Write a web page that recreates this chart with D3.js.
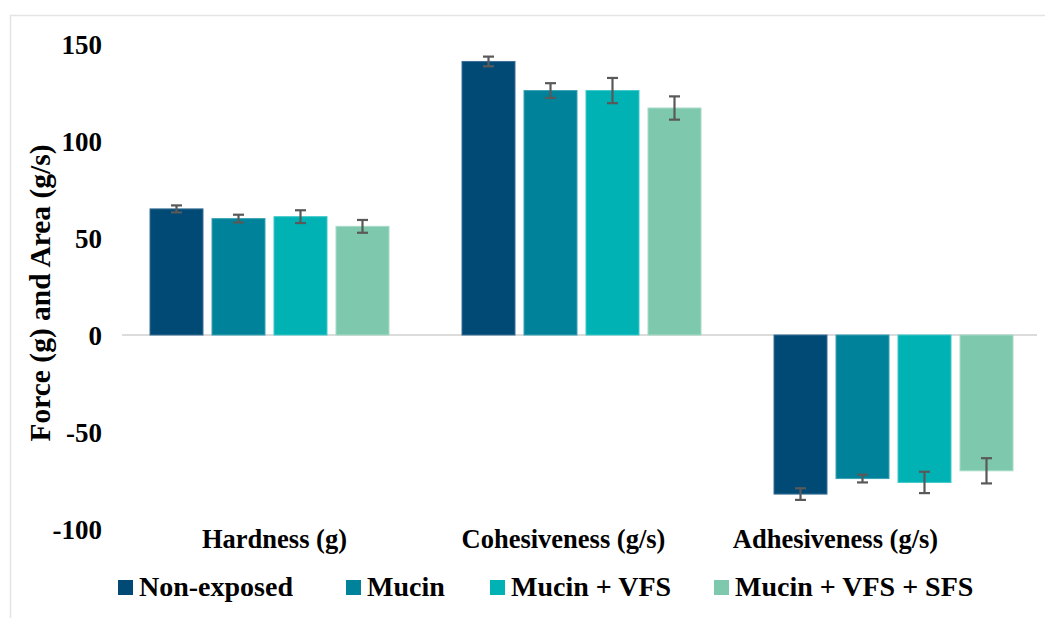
<!DOCTYPE html>
<html>
<head>
<meta charset="utf-8">
<script src="https://cdn.jsdelivr.net/npm/d3@7"></script>
<style>
  html, body { margin: 0; padding: 0; background: #fff; }
  svg { display: block; }
  text { font-family: "Liberation Serif", "Times New Roman", serif; font-weight: bold; fill: #000; }
</style>
</head>
<body>
<svg id="chart" width="1045" height="618"></svg>
<script>
// Texture-profile measures per sample treatment
const categories = ["Hardness (g)", "Cohesiveness (g/s)", "Adhesiveness (g/s)"];
const seriesNames = ["Non-exposed", "Mucin", "Mucin + VFS", "Mucin + VFS + SFS"];
const nonExposed   = [65, 141, -82];
const mucin        = [60, 126, -74];
const mucinVfs     = [61, 126, -76];
const mucinVfsSfs  = [56, 117, -70];
const nonExposedErr  = [1.8, 2.5, 3];
const mucinErr       = [2, 3.8, 2];
const mucinVfsErr    = [3.3, 6.5, 5.5];
const mucinVfsSfsErr = [3.3, 6, 6.5];
const yTicks = [150, 100, 50, 0, -50, -100];
const colors = ["#004a75", "#00839a", "#00b2b4", "#7ec9ae"];
const edgeColors = ["#3b6f95", "#3aa2b3", "#40c8c9", "#a6dac7"];

const seriesValues = [nonExposed, mucin, mucinVfs, mucinVfsSfs];
const seriesErrors = [nonExposedErr, mucinErr, mucinVfsErr, mucinVfsSfsErr];

// horizontal nudge of each category caption relative to its group centre
const labelShift = [5, -18, -58];

const svg = d3.select("#chart");

// outer frame (left and top edges only are visible)
svg.append("line").attr("x1", 10.5).attr("x2", 10.5).attr("y1", 15).attr("y2", 618)
  .attr("stroke", "#e4e4e4").attr("stroke-width", 1.5);
svg.append("line").attr("x1", 10).attr("x2", 1045).attr("y1", 15.5).attr("y2", 15.5)
  .attr("stroke", "#e4e4e4").attr("stroke-width", 1.5);

const y = d3.scaleLinear().domain([-100, 150]).range([529, 44]);
const x0 = d3.scaleBand().domain(categories).range([113.5, 1049.5]).padding(0);
const x1 = d3.scaleBand().domain(seriesNames).range([0, 240]).paddingInner(0.129).paddingOuter(0);

// y tick labels (plain hyphen for negatives)
const yAxis = d3.axisLeft(y).tickValues(yTicks).tickSize(0).tickPadding(0)
  .tickFormat(d => String(d));
const gy = svg.append("g").attr("transform", "translate(102,0)").call(yAxis);
gy.select(".domain").remove();
gy.selectAll("text")
  .attr("font-family", "Liberation Serif")
  .attr("font-weight", "bold")
  .attr("font-size", 27)
  .attr("fill", "#000")
  .attr("dy", "0.34em");

// zero line
svg.append("line")
  .attr("x1", 122).attr("x2", 1037)
  .attr("y1", y(0)).attr("y2", y(0))
  .attr("stroke", "#d0d0d0").attr("stroke-width", 1.5);

// bars
const groups = svg.append("g").selectAll("g")
  .data(categories)
  .join("g")
  .attr("transform", c => `translate(${x0(c) + x0.bandwidth() / 2 - 120},0)`);

seriesNames.forEach((s, si) => {
  groups.append("rect")
    .attr("x", x1(s) + 0.5)
    .attr("width", x1.bandwidth() - 1)
    .attr("y", (c, ci) => y(Math.max(0, seriesValues[si][ci])))
    .attr("height", (c, ci) => Math.abs(y(seriesValues[si][ci]) - y(0)))
    .attr("fill", colors[si])
    .attr("stroke", edgeColors[si])
    .attr("stroke-width", 1);
});

// error bars
seriesNames.forEach((s, si) => {
  const cx = x1(s) + x1.bandwidth() / 2;
  const eb = groups.append("g").attr("stroke", "#595959").attr("stroke-width", 2.2);
  eb.append("line")
    .attr("x1", cx).attr("x2", cx)
    .attr("y1", (c, ci) => y(seriesValues[si][ci] + seriesErrors[si][ci]))
    .attr("y2", (c, ci) => y(seriesValues[si][ci] - seriesErrors[si][ci]));
  [1, -1].forEach(sign => {
    eb.append("line")
      .attr("x1", cx - 5.5).attr("x2", cx + 5.5)
      .attr("y1", (c, ci) => y(seriesValues[si][ci] + sign * seriesErrors[si][ci]))
      .attr("y2", (c, ci) => y(seriesValues[si][ci] + sign * seriesErrors[si][ci]));
  });
});

// category captions
svg.append("g").selectAll("text")
  .data(categories)
  .join("text")
  .attr("x", (c, i) => x0(c) + x0.bandwidth() / 2 + labelShift[i])
  .attr("y", 548)
  .attr("text-anchor", "middle")
  .attr("font-size", 26.5)
  .text(c => c);

// y axis title
svg.append("text")
  .attr("transform", "translate(50,293) rotate(-90)")
  .attr("text-anchor", "middle")
  .attr("font-size", 29.5)
  .text("Force (g) and Area (g/s)");

// legend
const legendX = [118, 346, 490, 714];
const legend = svg.append("g").selectAll("g")
  .data(seriesNames)
  .join("g")
  .attr("transform", (d, i) => `translate(${legendX[i]},0)`);
legend.append("rect")
  .attr("x", 0).attr("y", 580).attr("width", 15).attr("height", 15)
  .attr("fill", (d, i) => colors[i]);
legend.append("text")
  .attr("x", 21).attr("y", 596)
  .attr("font-size", 28)
  .text(d => d);
</script>
</body>
</html>
